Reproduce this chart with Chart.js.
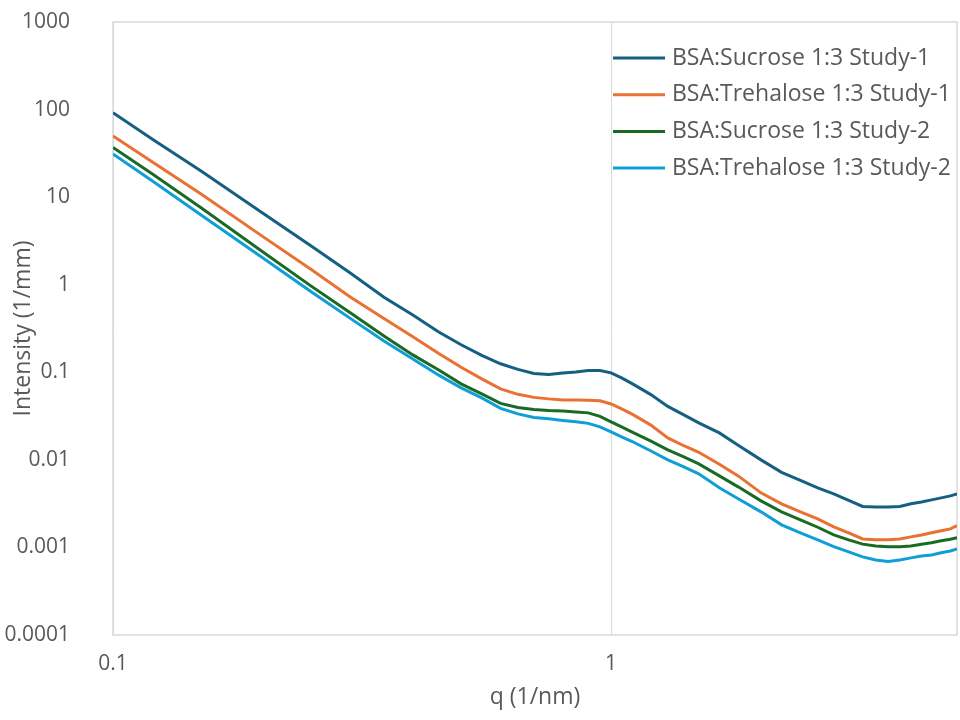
<!DOCTYPE html>
<html>
<head>
<meta charset="utf-8">
<script src="https://cdn.jsdelivr.net/npm/chart.js@4.4.1/dist/chart.umd.min.js"></script>
<style>
  html, body { margin: 0; padding: 0; background: #fff; }
  #wrap { width: 960px; height: 720px; }
</style>
</head>
<body>
<div id="wrap"><canvas id="chart" width="960" height="720"></canvas></div>
<script>
// q values (1/nm)
const qValues = [0.1, 0.12, 0.15, 0.2, 0.25, 0.3, 0.35, 0.4, 0.45, 0.5, 0.55, 0.6, 0.65, 0.7, 0.75, 0.8, 0.85, 0.9, 0.95,
    1.0, 1.05, 1.1, 1.2, 1.3, 1.4, 1.5, 1.65, 1.8,
    2.0, 2.2, 2.4, 2.6, 2.8, 3.0, 3.2, 3.4, 3.6, 3.8, 4.0, 4.2, 4.4, 4.6, 4.8, 4.95];

// Intensity (1/mm)
const sucroseStudy1 = [92, 45.7, 20.0, 6.55, 2.76, 1.35, 0.72, 0.45, 0.29, 0.206, 0.156, 0.125, 0.108, 0.097, 0.0946, 0.0984, 0.101, 0.105, 0.105,
    0.0984, 0.0863, 0.0747, 0.056, 0.0408, 0.0327, 0.0264, 0.0203, 0.0147,
    0.0100, 0.0072, 0.00583, 0.00479, 0.00409, 0.00345, 0.00294, 0.0029, 0.0029, 0.00293, 0.00315, 0.0033, 0.00349, 0.00368, 0.00388, 0.00409];

const trehaloseStudy1 = [50, 25.2, 10.9, 3.54, 1.49, 0.72, 0.412, 0.255, 0.165, 0.114, 0.0841, 0.0647, 0.056, 0.0517, 0.0497, 0.0484, 0.0484, 0.048, 0.0473,
    0.0435, 0.0382, 0.0335, 0.0251, 0.0178, 0.0145, 0.0122, 0.0089, 0.00656,
    0.0042, 0.00315, 0.00255, 0.00212, 0.00172, 0.00147, 0.00125, 0.00122, 0.00122, 0.00125, 0.00132, 0.00139, 0.00147, 0.00155, 0.00163, 0.00177];

const sucroseStudy2 = [36.9, 18.4, 7.6, 2.36, 0.964, 0.475, 0.26, 0.158, 0.107, 0.0738, 0.0566, 0.0441, 0.0397, 0.0377, 0.0367, 0.0362, 0.0353, 0.0344, 0.0314,
    0.0272, 0.0238, 0.0209, 0.0165, 0.0130, 0.0108, 0.009, 0.00656, 0.00492,
    0.0034, 0.00255, 0.00207, 0.0017, 0.00139, 0.00122, 0.00109, 0.00104, 0.00102, 0.00102, 0.00104, 0.00109, 0.00113, 0.00119, 0.00124, 0.00129];

const trehaloseStudy2 = [31.1, 15.3, 6.3, 2.02, 0.832, 0.41, 0.228, 0.142, 0.0933, 0.0664, 0.051, 0.0387, 0.0335, 0.0305, 0.0294, 0.0282, 0.0272, 0.0261, 0.0238,
    0.0209, 0.0183, 0.0163, 0.0127, 0.01, 0.00832, 0.00692, 0.00479, 0.00359,
    0.00255, 0.00181, 0.00147, 0.00122, 0.00102, 0.00089, 0.00078, 0.00072, 0.00069, 0.00072, 0.00076, 0.0008, 0.00082, 0.00087, 0.00091, 0.00096];

const seriesNames = ['BSA:Sucrose 1:3 Study-1', 'BSA:Trehalose 1:3 Study-1', 'BSA:Sucrose 1:3 Study-2', 'BSA:Trehalose 1:3 Study-2'];
const seriesColors = ['#156082', '#e97132', '#196b24', '#0f9ed5'];

const xTicks = [0.1, 1];
const yTicks = [1000, 100, 10, 1, 0.1, 0.01, 0.001, 0.0001];

const TEXT = '#595959';
const FAMILY = "'Open Sans', 'Liberation Sans', sans-serif";
const TICK_FONT = { family: FAMILY, size: 21 };
const TITLE_FONT = { family: FAMILY, size: 23 };
const LEGEND_SIZE = 23;

const toPoints = (ys) => qValues.map((q, i) => ({ x: q, y: ys[i] }));

// light grey frame round the plot area
const framePlugin = {
    id: 'frame',
    beforeDatasetsDraw(chart) {
        const { ctx, chartArea: a } = chart;
        ctx.save();
        ctx.strokeStyle = '#d9d9d9';
        ctx.lineWidth = 1.5;
        ctx.strokeRect(a.left, a.top, a.right - a.left, a.bottom - a.top);
        ctx.restore();
    }
};

// legend sits inside the plot, top right
const insideLegend = {
    id: 'insideLegend',
    afterDatasetsDraw(chart) {
        const { ctx, chartArea: a } = chart;
        const x0 = a.right - 344;
        const y0 = a.top + 36;
        const gap = 36.7;
        ctx.save();
        ctx.font = `${LEGEND_SIZE}px ${FAMILY}`;
        ctx.textBaseline = 'middle';
        ctx.textAlign = 'left';
        chart.data.datasets.forEach((ds, i) => {
            const y = y0 + i * gap;
            ctx.strokeStyle = ds.borderColor;
            ctx.lineWidth = 3;
            ctx.beginPath();
            ctx.moveTo(x0, y);
            ctx.lineTo(x0 + 52, y);
            ctx.stroke();
            ctx.fillStyle = TEXT;
            ctx.fillText(ds.label, x0 + 59, y);
        });
        ctx.restore();
    }
};

const datasets = [sucroseStudy1, trehaloseStudy1, sucroseStudy2, trehaloseStudy2].map((ys, i) => ({
    label: seriesNames[i],
    data: toPoints(ys),
    borderColor: seriesColors[i],
    backgroundColor: seriesColors[i],
    borderWidth: 3,
    pointRadius: 0,
    tension: 0,
    fill: false
}));

new Chart(document.getElementById('chart'), {
    type: 'line',
    data: { datasets },
    plugins: [framePlugin, insideLegend],
    options: {
        responsive: false,
        animation: false,
        layout: { padding: { top: 22, right: 3, left: 0, bottom: 0 } },
        plugins: { legend: { display: false }, tooltip: { enabled: false } },
        scales: {
            x: {
                type: 'logarithmic',
                min: 0.1,
                max: 4.95,
                afterBuildTicks: (s) => { s.ticks = xTicks.map(v => ({ value: v })); },
                afterFit: (s) => { s.height = 85; s.paddingLeft = 0; s.paddingRight = 0; },
                grid: { color: '#d9d9d9', lineWidth: 1, drawTicks: false },
                border: { display: false },
                ticks: { color: TEXT, font: TICK_FONT, padding: 16, autoSkip: false, maxRotation: 0, callback: (v) => String(v) },
                title: { display: true, text: 'q (1/nm)', color: TEXT, font: TITLE_FONT, padding: { top: 0, bottom: 9 } }
            },
            y: {
                type: 'logarithmic',
                min: 0.0001,
                max: 1000,
                afterBuildTicks: (s) => { s.ticks = yTicks.map(v => ({ value: v })); },
                afterFit: (s) => { s.width = 113; s.paddingTop = 0; s.paddingBottom = 0; },
                grid: { display: false, drawTicks: false },
                border: { display: false },
                ticks: { color: TEXT, font: TICK_FONT, padding: 43, autoSkip: false, callback: (v) => String(v) },
                title: { display: true, text: 'Intensity (1/mm)', color: TEXT, font: TITLE_FONT, padding: { top: 10, bottom: 0 } }
            }
        }
    }
});
</script>
</body>
</html>
